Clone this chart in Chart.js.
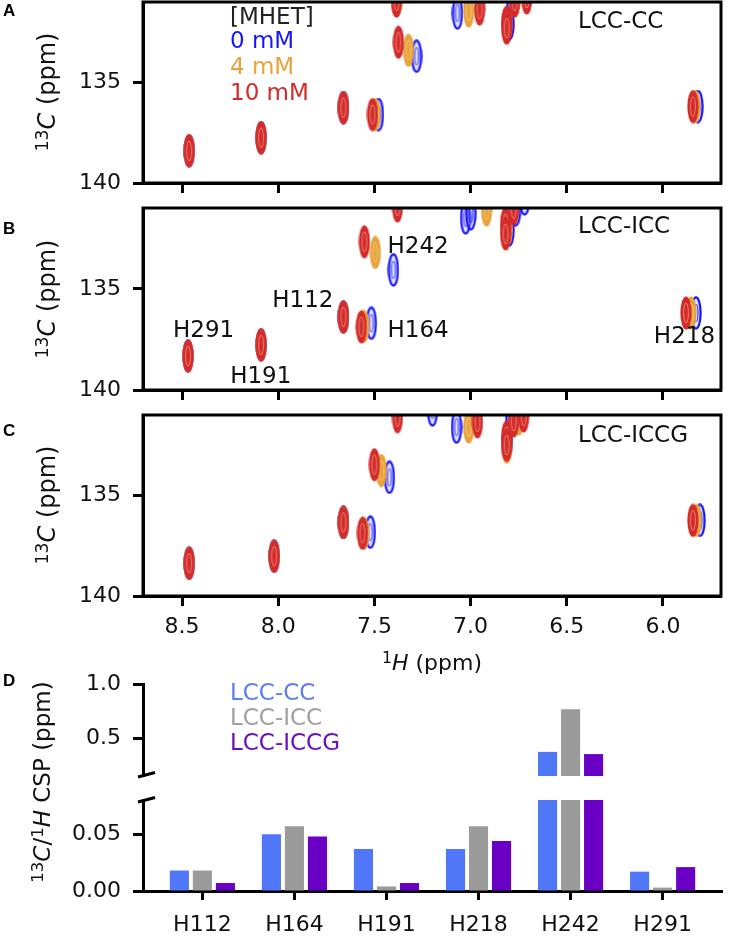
<!DOCTYPE html>
<html>
<head>
<meta charset="utf-8">
<script src="https://cdn.jsdelivr.net/npm/chart.js@4.4.1/dist/chart.umd.min.js"></script>
<style>
  html,body{margin:0;padding:0;background:#fff;}
  #wrap{position:relative;width:736px;height:947px;overflow:hidden;background:#fff;font-family:'DejaVu Sans';}
  canvas{position:absolute;left:0;}
  .t{position:absolute;white-space:nowrap;line-height:normal;font-family:'DejaVu Sans';}
  .lbl{position:absolute;font-family:'Liberation Sans',Arial,sans-serif;font-weight:bold;font-size:17px;line-height:17px;color:#000;}
  sup{font-size:0.72em;vertical-align:0.42em;line-height:0;}
</style>
</head>
<body>
<div id="wrap">
  <canvas id="cA" width="736" height="205" style="top:0px"></canvas>
  <canvas id="cB" width="736" height="205" style="top:205px"></canvas>
  <canvas id="cC" width="736" height="270" style="top:410px"></canvas>
  <canvas id="cD1" width="736" height="110" style="top:670px"></canvas>
  <canvas id="cD2" width="736" height="167" style="top:780px"></canvas>
</div>
<script>
// ---------------- DATA ----------------
// NMR peak positions [1H ppm, 13C ppm]
const A_0mM  = [[8.463,138.4],[8.089,137.75],[7.661,136.25],[7.479,136.6],[7.281,133.7],[7.068,131.55],[6.80,132.1],[6.786,130.95],[5.818,136.2]];
const A_4mM  = [[8.463,138.4],[8.089,137.75],[7.661,136.25],[7.495,136.6],[7.323,133.4],[7.385,130.95],[7.010,131.45],[6.81,132.1],[6.77,130.95],[5.832,136.2]];
const A_10mM = [[8.463,138.4],[8.089,137.75],[7.661,136.25],[7.510,136.6],[7.375,133.0],[7.385,130.95],[6.953,131.35],[6.812,132.0],[6.812,132.3],[6.771,130.95],[6.708,130.8],[5.844,136.2]];

const B_0mM  = [[8.469,138.32],[8.089,137.77],[7.661,136.39],[7.516,136.7],[7.401,134.06],[7.026,131.49],[6.999,131.29],[6.766,131.09],[6.719,130.55],[6.80,132.1],[5.828,136.19]];
const B_4mM  = [[8.469,138.32],[8.089,137.77],[7.661,136.39],[7.555,136.85],[7.495,133.2],[6.917,131.1],[6.81,132.1],[5.854,136.19]];
const B_10mM = [[8.469,138.32],[8.089,137.77],[7.661,136.39],[7.568,136.88],[7.552,132.67],[7.38,130.9],[6.818,131.78],[6.818,132.28],[6.776,131.04],[5.880,136.19]];

const C_0mM  = [[8.463,138.37],[8.021,138.02],[7.661,136.34],[7.521,136.83],[7.422,134.1],[7.198,130.75],[7.073,131.6],[6.79,131.2],[6.81,132.3],[5.807,136.24]];
const C_4mM  = [[8.463,138.37],[8.021,138.02],[7.661,136.34],[7.555,136.88],[7.464,133.76],[7.010,131.6],[6.812,132.6],[6.75,131.2],[5.826,136.24]];
const C_10mM = [[8.463,138.37],[8.021,138.02],[7.661,136.34],[7.562,136.88],[7.500,133.47],[7.380,131.09],[6.964,131.34],[6.812,132.08],[6.812,132.5],[6.776,131.3],[6.724,131.05],[5.844,136.24]];

const xTicksNMR = [8.5, 8.0, 7.5, 7.0, 6.5, 6.0];
const yTicksNMR = [135, 140];

// panel B residue labels, anchored in ppm
const bLabels  = ['H242','H164','H218','H112','H291','H191'];
const bLabelX  = [7.432, 7.432, 6.047, 8.031, 8.547, 8.25];
const bLabelY  = [133.22, 137.38, 137.67, 135.89, 137.38, 139.65];

// panel D CSP values
const residues = ['H112','H164','H191','H218','H242','H291'];
const cspCC    = [0.018, 0.050, 0.037, 0.037, 0.38, 0.017];
const cspICC   = [0.018, 0.057, 0.004, 0.057, 0.77, 0.003];
const cspICCG  = [0.007, 0.048, 0.007, 0.044, 0.36, 0.021];
const yTicksUpper = [0.5, 1.0];
const yTicksLower = [0.00, 0.05];

// ---------------- STYLE ----------------
const F = 'DejaVu Sans';
Chart.defaults.font.family = F;
Chart.defaults.color = '#111';
Chart.defaults.animation = false;
const RED = '#d42a2a', ORANGE = '#e8a33a', BLUE = '#1515ff';
const C_CC = '#4f77f7', C_ICC = '#9b9b9b', C_ICCG = '#6a00c6';

function makePeak(color, ring){
  const c = document.createElement('canvas');
  c.width = 12; c.height = 34;
  const g = c.getContext('2d');
  if (ring){
    g.fillStyle = 'rgba(150,150,255,0.3)';
    g.beginPath(); g.ellipse(6,17,5,16,0,0,Math.PI*2); g.fill();
    g.strokeStyle = color; g.lineWidth = 2.2;
    g.beginPath(); g.ellipse(6,17,4.6,15.6,0,0,Math.PI*2); g.stroke();
    g.lineWidth = 1.2; g.globalAlpha = 0.8;
    g.beginPath(); g.ellipse(6,17,2,8.5,0,0,Math.PI*2); g.stroke();
  } else {
    g.fillStyle = color;
    g.beginPath(); g.ellipse(6,17,5.6,16.6,0,0,Math.PI*2); g.fill();
    g.strokeStyle = 'rgba(255,230,200,0.45)'; g.lineWidth = 1;
    g.beginPath(); g.ellipse(6,17,2.4,10,0,0,Math.PI*2); g.stroke();
  }
  return c;
}
const imgRed = makePeak(RED,false), imgOrange = makePeak(ORANGE,false), imgBlue = makePeak(BLUE,true);

const gridOpts = {drawOnChartArea:false, drawTicks:true, tickLength:10, tickWidth:3, tickColor:'#000'};
const borderOpts = {display:true, width:3, color:'#000'};
const tickFont = {family:F, size:22};
function noPad(s){ s.paddingTop = 0; s.paddingBottom = 0; s.paddingLeft = 0; s.paddingRight = 0; }

const framePlugin = {id:'frame', afterDraw(chart){
  const {ctx, chartArea:a} = chart;
  ctx.save(); ctx.strokeStyle='#000'; ctx.lineWidth=3;
  ctx.strokeRect(a.left, a.top, a.right-a.left, a.bottom-a.top);
  ctx.restore();
}};

function peakSet(arr, img, order){
  return {data: arr.map(([x,y])=>({x,y})), pointStyle: img, pointRadius: 16, pointHoverRadius:16, order, clip: 0, showLine:false};
}

function nmrChart(id, red, orange, blue, showX, xH, padTop, extra){
  return new Chart(document.getElementById(id), {
    type:'scatter',
    data:{datasets:[peakSet(red,imgRed,1), peakSet(orange,imgOrange,2), peakSet(blue,imgBlue,3)]},
    options:{
      responsive:false, animation:false,
      layout:{autoPadding:false, padding:{top:padTop, right:15, left:0, bottom:0}},
      plugins:{legend:{display:false}, tooltip:{enabled:false}},
      events:[],
      scales:{
        x:{type:'linear', min:5.698, max:8.703, reverse:true,
           afterBuildTicks:s=>{s.ticks = xTicksNMR.map(v=>({value:v}));},
           ticks:{display:showX, font:tickFont, color:'#111', padding:8, maxRotation:0, autoSkip:false, callback:v=>Number(v).toFixed(1)},
           grid:gridOpts, border:borderOpts,
           afterFit:s=>{s.height = xH; noPad(s);}},
        y:{type:'linear', min:131, max:140, reverse:true,
           afterBuildTicks:s=>{s.ticks = yTicksNMR.map(v=>({value:v}));},
           ticks:{font:tickFont, color:'#111', padding:12, callback:v=>String(v)},
           grid:gridOpts, border:borderOpts,
           afterFit:s=>{s.width = 143; noPad(s);}}
      }
    },
    plugins:[framePlugin].concat(extra||[])
  });
}

const bLabelPlugin = {id:'blabels', afterDatasetsDraw(chart){
  const {ctx} = chart, sx = chart.scales.x, sy = chart.scales.y;
  ctx.save(); ctx.font = '23px "DejaVu Sans"'; ctx.fillStyle='#111';
  ctx.textAlign='left'; ctx.textBaseline='alphabetic';
  bLabels.forEach((t,i)=>ctx.fillText(t, sx.getPixelForValue(bLabelX[i]), sy.getPixelForValue(bLabelY[i])));
  ctx.restore();
}};

nmrChart('cA', A_10mM, A_4mM, A_0mM, false, 22, 2);
nmrChart('cB', B_10mM, B_4mM, B_0mM, false, 20, 3, [bLabelPlugin]);
nmrChart('cC', C_10mM, C_4mM, C_0mM, true, 84, 5);

// ---- Panel D (broken axis) ----
function barSets(){
  return [
    {data: residues.map((r,i)=>({x:i, y:cspCC[i]})),   backgroundColor:C_CC,   clip:0},
    {data: residues.map((r,i)=>({x:i, y:cspICC[i]})),  backgroundColor:C_ICC,  clip:0},
    {data: residues.map((r,i)=>({x:i, y:cspICCG[i]})), backgroundColor:C_ICCG, clip:0}
  ];
}
function breakMark(where){
  return {id:'brk'+where, afterDraw(chart){
    const {ctx, chartArea:a} = chart;
    const y = where==='bottom' ? a.bottom+1 : a.top+2;
    ctx.save(); ctx.strokeStyle='#000'; ctx.lineWidth=3;
    ctx.beginPath(); ctx.moveTo(a.left-5, y); ctx.lineTo(a.left+12, y-4.5); ctx.stroke();
    ctx.restore();
  }};
}
const xBar = (show, h) => ({type:'linear', min:-0.645, max:5.645, display:show, offset:false,
  afterBuildTicks:s=>{s.ticks = residues.map((r,i)=>({value:i}));},
  ticks:{font:tickFont, color:'#111', padding:12, maxRotation:0, autoSkip:false, callback:v=>residues[v]},
  grid:{offset:false, drawOnChartArea:false, drawTicks:true, tickLength:9, tickWidth:3, tickColor:'#000'},
  border:borderOpts, afterFit:s=>{s.height = h; noPad(s);}});

new Chart(document.getElementById('cD1'), {
  type:'bar',
  data:{datasets:barSets()},
  options:{responsive:false, animation:false, events:[],
    layout:{autoPadding:false, padding:{top:14, right:14, left:0, bottom:4}},
    datasets:{bar:{barPercentage:0.83, categoryPercentage:0.75}},
    plugins:{legend:{display:false}, tooltip:{enabled:false}},
    scales:{
      x:xBar(false, 0),
      y:{type:'linear', min:0.16, max:1.0,
         afterBuildTicks:s=>{s.ticks = yTicksUpper.map(v=>({value:v}));},
         ticks:{font:tickFont, color:'#111', padding:12, callback:v=>Number(v).toFixed(1)},
         grid:gridOpts, border:borderOpts, afterFit:s=>{s.width = 143; noPad(s);}}
    }},
  plugins:[breakMark('bottom')]
});

new Chart(document.getElementById('cD2'), {
  type:'bar',
  data:{datasets:barSets()},
  options:{responsive:false, animation:false, events:[],
    layout:{autoPadding:false, padding:{top:20, right:14, left:0, bottom:0}},
    datasets:{bar:{barPercentage:0.83, categoryPercentage:0.75}},
    plugins:{legend:{display:false}, tooltip:{enabled:false}},
    scales:{
      x:xBar(true, 56),
      y:{type:'linear', min:0, max:0.08,
         afterBuildTicks:s=>{s.ticks = yTicksLower.map(v=>({value:v}));},
         ticks:{font:tickFont, color:'#111', padding:12, callback:v=>Number(v).toFixed(2)},
         grid:gridOpts, border:borderOpts, afterFit:s=>{s.width = 143; noPad(s);}}
    }},
  plugins:[breakMark('top')]
});

// ---------------- TEXT OVERLAYS ----------------
const wrap = document.getElementById('wrap');
function txt(html, x, base, size, color, align){
  const d = document.createElement('div');
  d.className = 't';
  d.innerHTML = html;
  d.style.fontSize = size+'px';
  d.style.color = color;
  d.style.left = x+'px';
  d.style.top = (base - 0.928*size)+'px';
  if (align==='center') d.style.transform = 'translateX(-50%)';
  wrap.appendChild(d);
}
function vtxt(html, cx, cy, size){
  const d = document.createElement('div');
  d.className = 't';
  d.innerHTML = html;
  d.style.fontSize = size+'px';
  d.style.color = '#111';
  d.style.left = cx+'px';
  d.style.top = cy+'px';
  d.style.transform = 'translate(-50%,-50%) rotate(-90deg)';
  wrap.appendChild(d);
}
function lbl(t, x, y){
  const d = document.createElement('div');
  d.className='lbl'; d.textContent=t; d.style.left=x+'px'; d.style.top=y+'px';
  wrap.appendChild(d);
}
lbl('A', 3, 2); lbl('B', 3, 220); lbl('C', 3, 422); lbl('D', 3, 672);

// panel A legend
txt('[MHET]', 230, 24, 23, '#222');
txt('0 mM', 230, 48, 23, BLUE);
txt('4 mM', 230, 74, 23, ORANGE);
txt('10 mM', 230, 100, 23, RED);
// panel names
txt('LCC-CC', 578, 28, 23, '#111');
txt('LCC-ICC', 578, 233, 23, '#111');
txt('LCC-ICCG', 578, 442, 23, '#111');
// axis titles
const yT = '<sup>13</sup><i>C</i> (ppm)';
vtxt(yT, 47, 92, 24); vtxt(yT, 47, 299, 24); vtxt(yT, 47, 505, 24);
txt('<sup>1</sup><i>H</i> (ppm)', 432, 670, 22, '#111', 'center');
vtxt('<sup>13</sup><i>C</i>/<sup>1</sup><i>H</i> CSP (ppm)', 42, 782, 23);
// panel D legend
txt('LCC-CC', 230, 700, 23, '#5a80f0');
txt('LCC-ICC', 230, 725, 23, '#a0a0a0');
txt('LCC-ICCG', 230, 750, 23, '#6a10c0');
</script>
</body>
</html>
